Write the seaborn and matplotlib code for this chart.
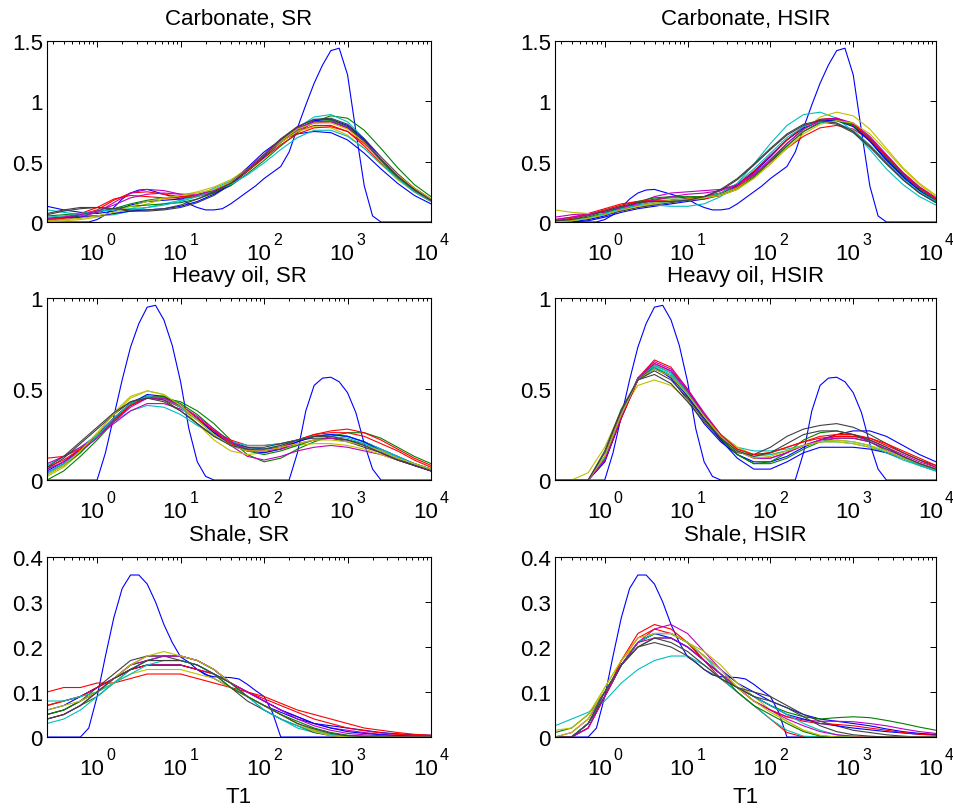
import numpy as np
import pandas as pd
import matplotlib
matplotlib.use("Agg")
import matplotlib.pyplot as plt
import seaborn as sns
from matplotlib.ticker import FixedLocator, LogLocator, FuncFormatter, NullFormatter

# log10(T1) grid for the estimated curves (0.2 decade) and the true ones (0.1 decade)
log_t1 = [-0.6, -0.4, -0.2, 0.0, 0.2, 0.4, 0.6, 0.8, 1.0, 1.2, 1.4, 1.6,
          1.8, 2.0, 2.2, 2.4, 2.6, 2.8, 3.0, 3.2, 3.4, 3.6, 3.8, 4.0]
log_t1_fine = [-0.6, -0.5, -0.4, -0.3, -0.2, -0.1, 0.0, 0.1, 0.2, 0.3, 0.4, 0.5,
               0.6, 0.7, 0.8, 0.9, 1.0, 1.1, 1.2, 1.3, 1.4, 1.5, 1.6, 1.7,
               1.8, 1.9, 2.0, 2.1, 2.2, 2.3, 2.4, 2.5, 2.6, 2.7, 2.8, 2.9,
               3.0, 3.1, 3.2, 3.3, 3.4, 3.5, 3.6, 3.7, 3.8, 3.9, 4.0]
decades = [0, 1, 2, 3, 4]

# true distributions (same for SR and HSIR)
true_carb = [0, 0, 0, 0, 0, 0, 0.02, 0.06, 0.12, 0.19, 0.24, 0.265, 0.27, 0.25,
             0.23, 0.21, 0.19, 0.15, 0.12, 0.10, 0.10, 0.11, 0.15, 0.20, 0.25,
             0.30, 0.36, 0.41, 0.46, 0.58, 0.78, 0.97, 1.15, 1.30, 1.42, 1.44,
             1.22, 0.75, 0.30, 0.05, 0, 0, 0, 0, 0, 0, 0]
true_oil = [0, 0, 0, 0, 0, 0, 0, 0.15, 0.35, 0.55, 0.73, 0.86, 0.95, 0.96, 0.88,
            0.74, 0.54, 0.28, 0.10, 0.02, 0, 0, 0, 0, 0, 0, 0, 0, 0, 0, 0.15,
            0.38, 0.52, 0.56, 0.565, 0.54, 0.48, 0.37, 0.20, 0.06, 0, 0, 0, 0,
            0, 0, 0]
true_shale = [0, 0, 0, 0, 0, 0.02, 0.09, 0.18, 0.265, 0.33, 0.36, 0.36, 0.34,
              0.30, 0.25, 0.21, 0.178, 0.166, 0.15, 0.138, 0.134, 0.133, 0.132,
              0.129, 0.117, 0.103, 0.09, 0.055, 0, 0, 0, 0, 0, 0, 0, 0, 0, 0, 0,
              0, 0, 0, 0, 0, 0, 0, 0]

# estimated distributions
carb_sr = [
    [0.13, 0.10, 0.08, 0.07, 0.09, 0.14, 0.17, 0.18, 0.19, 0.22, 0.26, 0.33, 0.45, 0.58, 0.68, 0.73, 0.75, 0.74, 0.68, 0.57, 0.44, 0.32, 0.22, 0.15],
    [0.02, 0.03, 0.05, 0.08, 0.11, 0.15, 0.18, 0.20, 0.21, 0.22, 0.24, 0.30, 0.40, 0.51, 0.63, 0.74, 0.83, 0.88, 0.86, 0.76, 0.61, 0.45, 0.31, 0.21],
    [0.01, 0.03, 0.06, 0.10, 0.18, 0.24, 0.25, 0.23, 0.21, 0.22, 0.25, 0.32, 0.43, 0.54, 0.66, 0.75, 0.80, 0.80, 0.75, 0.63, 0.49, 0.36, 0.25, 0.17],
    [0.10, 0.08, 0.06, 0.05, 0.06, 0.09, 0.12, 0.15, 0.18, 0.22, 0.28, 0.34, 0.43, 0.54, 0.66, 0.78, 0.87, 0.89, 0.83, 0.69, 0.53, 0.38, 0.26, 0.18],
    [0.01, 0.02, 0.04, 0.08, 0.16, 0.24, 0.27, 0.26, 0.23, 0.22, 0.24, 0.31, 0.42, 0.54, 0.66, 0.76, 0.82, 0.83, 0.78, 0.66, 0.51, 0.37, 0.26, 0.18],
    [0.00, 0.01, 0.02, 0.04, 0.07, 0.11, 0.15, 0.19, 0.22, 0.25, 0.29, 0.35, 0.44, 0.55, 0.66, 0.75, 0.79, 0.78, 0.72, 0.61, 0.48, 0.35, 0.25, 0.17],
    [0.06, 0.09, 0.11, 0.12, 0.11, 0.09, 0.09, 0.10, 0.12, 0.16, 0.22, 0.31, 0.43, 0.56, 0.69, 0.79, 0.85, 0.86, 0.81, 0.69, 0.54, 0.40, 0.28, 0.19],
    [0.03, 0.04, 0.04, 0.05, 0.07, 0.09, 0.10, 0.11, 0.13, 0.17, 0.23, 0.31, 0.42, 0.54, 0.67, 0.77, 0.84, 0.85, 0.80, 0.68, 0.53, 0.39, 0.27, 0.18],
    [0.05, 0.06, 0.07, 0.09, 0.11, 0.13, 0.14, 0.15, 0.16, 0.19, 0.24, 0.32, 0.43, 0.55, 0.67, 0.77, 0.83, 0.84, 0.78, 0.66, 0.51, 0.37, 0.26, 0.18],
    [0.02, 0.04, 0.07, 0.12, 0.19, 0.22, 0.21, 0.20, 0.20, 0.21, 0.25, 0.32, 0.42, 0.53, 0.64, 0.73, 0.78, 0.79, 0.75, 0.65, 0.52, 0.39, 0.28, 0.19],
    [0.04, 0.05, 0.07, 0.09, 0.10, 0.11, 0.12, 0.14, 0.17, 0.21, 0.26, 0.31, 0.39, 0.49, 0.60, 0.70, 0.76, 0.76, 0.71, 0.61, 0.48, 0.36, 0.25, 0.17],
    [0.03, 0.04, 0.06, 0.09, 0.14, 0.20, 0.23, 0.24, 0.23, 0.23, 0.26, 0.33, 0.44, 0.56, 0.68, 0.78, 0.83, 0.83, 0.78, 0.67, 0.53, 0.39, 0.27, 0.18],
    [0.01, 0.02, 0.03, 0.05, 0.08, 0.13, 0.17, 0.20, 0.22, 0.24, 0.27, 0.33, 0.43, 0.55, 0.67, 0.77, 0.82, 0.82, 0.77, 0.66, 0.53, 0.39, 0.28, 0.19],
    [0.07, 0.10, 0.12, 0.12, 0.11, 0.10, 0.10, 0.11, 0.14, 0.19, 0.25, 0.32, 0.43, 0.55, 0.68, 0.79, 0.85, 0.85, 0.79, 0.67, 0.52, 0.38, 0.27, 0.18],
]
carb_hsir = [
    [0.00, 0.00, 0.01, 0.04, 0.08, 0.11, 0.13, 0.15, 0.17, 0.19, 0.23, 0.30, 0.41, 0.54, 0.68, 0.79, 0.85, 0.86, 0.80, 0.67, 0.51, 0.37, 0.26, 0.17],
    [0.01, 0.02, 0.04, 0.08, 0.12, 0.16, 0.19, 0.20, 0.20, 0.20, 0.22, 0.28, 0.38, 0.51, 0.65, 0.77, 0.84, 0.85, 0.80, 0.68, 0.53, 0.39, 0.27, 0.18],
    [0.02, 0.04, 0.07, 0.11, 0.15, 0.17, 0.17, 0.17, 0.18, 0.19, 0.22, 0.29, 0.39, 0.50, 0.61, 0.71, 0.78, 0.80, 0.77, 0.68, 0.55, 0.41, 0.29, 0.20],
    [0.01, 0.03, 0.06, 0.10, 0.13, 0.14, 0.14, 0.13, 0.13, 0.15, 0.21, 0.32, 0.48, 0.65, 0.80, 0.89, 0.91, 0.86, 0.75, 0.60, 0.44, 0.31, 0.21, 0.14],
    [0.04, 0.06, 0.07, 0.08, 0.11, 0.16, 0.21, 0.24, 0.25, 0.26, 0.27, 0.31, 0.39, 0.50, 0.63, 0.75, 0.83, 0.85, 0.81, 0.70, 0.55, 0.40, 0.28, 0.19],
    [0.10, 0.08, 0.07, 0.07, 0.09, 0.12, 0.15, 0.17, 0.18, 0.20, 0.23, 0.28, 0.37, 0.48, 0.62, 0.76, 0.87, 0.91, 0.88, 0.77, 0.61, 0.45, 0.32, 0.22],
    [0.00, 0.01, 0.03, 0.06, 0.09, 0.12, 0.14, 0.16, 0.18, 0.21, 0.26, 0.35, 0.47, 0.60, 0.72, 0.80, 0.83, 0.81, 0.74, 0.62, 0.48, 0.35, 0.24, 0.16],
    [0.00, 0.00, 0.02, 0.05, 0.10, 0.14, 0.16, 0.18, 0.19, 0.21, 0.24, 0.31, 0.42, 0.55, 0.68, 0.78, 0.84, 0.84, 0.79, 0.67, 0.52, 0.38, 0.26, 0.17],
    [0.00, 0.01, 0.03, 0.07, 0.12, 0.17, 0.20, 0.21, 0.21, 0.21, 0.22, 0.27, 0.37, 0.50, 0.63, 0.75, 0.82, 0.84, 0.80, 0.69, 0.54, 0.40, 0.28, 0.19],
    [0.01, 0.03, 0.06, 0.10, 0.14, 0.17, 0.18, 0.18, 0.19, 0.21, 0.24, 0.31, 0.42, 0.55, 0.68, 0.79, 0.85, 0.86, 0.81, 0.69, 0.54, 0.40, 0.28, 0.19],
    [0.00, 0.01, 0.03, 0.07, 0.11, 0.14, 0.16, 0.17, 0.18, 0.20, 0.24, 0.32, 0.44, 0.57, 0.70, 0.79, 0.83, 0.82, 0.76, 0.64, 0.50, 0.36, 0.25, 0.17],
    [0.02, 0.04, 0.06, 0.09, 0.12, 0.15, 0.18, 0.21, 0.23, 0.24, 0.26, 0.31, 0.40, 0.52, 0.65, 0.77, 0.84, 0.86, 0.82, 0.71, 0.56, 0.41, 0.29, 0.20],
    [0.00, 0.01, 0.03, 0.06, 0.10, 0.13, 0.16, 0.18, 0.19, 0.20, 0.22, 0.27, 0.36, 0.48, 0.61, 0.73, 0.81, 0.84, 0.82, 0.73, 0.59, 0.44, 0.31, 0.21],
    [0.01, 0.02, 0.05, 0.09, 0.13, 0.16, 0.17, 0.17, 0.18, 0.21, 0.27, 0.36, 0.48, 0.61, 0.73, 0.81, 0.84, 0.82, 0.75, 0.63, 0.49, 0.35, 0.24, 0.16],
]
oil_sr = [
    [0.05, 0.10, 0.17, 0.25, 0.34, 0.42, 0.46, 0.45, 0.40, 0.33, 0.26, 0.21, 0.18, 0.17, 0.18, 0.21, 0.24, 0.25, 0.24, 0.21, 0.17, 0.13, 0.09, 0.06],
    [0.00, 0.05, 0.13, 0.22, 0.32, 0.41, 0.45, 0.45, 0.43, 0.38, 0.31, 0.22, 0.14, 0.10, 0.12, 0.17, 0.21, 0.24, 0.26, 0.26, 0.23, 0.18, 0.13, 0.09],
    [0.12, 0.13, 0.17, 0.24, 0.33, 0.41, 0.45, 0.44, 0.40, 0.34, 0.27, 0.22, 0.19, 0.19, 0.20, 0.22, 0.25, 0.27, 0.28, 0.26, 0.22, 0.17, 0.12, 0.08],
    [0.08, 0.13, 0.18, 0.25, 0.32, 0.38, 0.41, 0.40, 0.36, 0.30, 0.25, 0.21, 0.19, 0.19, 0.20, 0.22, 0.24, 0.25, 0.24, 0.21, 0.17, 0.13, 0.09, 0.06],
    [0.09, 0.13, 0.18, 0.24, 0.31, 0.38, 0.42, 0.42, 0.39, 0.34, 0.27, 0.19, 0.13, 0.11, 0.13, 0.16, 0.18, 0.19, 0.18, 0.16, 0.14, 0.11, 0.08, 0.05],
    [0.02, 0.07, 0.15, 0.25, 0.37, 0.46, 0.49, 0.47, 0.40, 0.31, 0.22, 0.16, 0.14, 0.15, 0.17, 0.19, 0.20, 0.20, 0.19, 0.17, 0.14, 0.11, 0.08, 0.06],
    [0.06, 0.12, 0.20, 0.28, 0.36, 0.43, 0.46, 0.44, 0.38, 0.31, 0.24, 0.20, 0.18, 0.18, 0.20, 0.22, 0.23, 0.23, 0.21, 0.18, 0.15, 0.11, 0.08, 0.05],
    [0.04, 0.09, 0.16, 0.24, 0.34, 0.42, 0.47, 0.46, 0.41, 0.34, 0.26, 0.19, 0.16, 0.15, 0.17, 0.21, 0.24, 0.25, 0.24, 0.21, 0.16, 0.12, 0.08, 0.05],
    [0.03, 0.08, 0.15, 0.24, 0.34, 0.42, 0.46, 0.46, 0.42, 0.36, 0.28, 0.21, 0.16, 0.14, 0.16, 0.19, 0.22, 0.23, 0.22, 0.20, 0.16, 0.12, 0.09, 0.06],
    [0.07, 0.11, 0.17, 0.24, 0.33, 0.41, 0.46, 0.45, 0.41, 0.34, 0.27, 0.20, 0.16, 0.16, 0.18, 0.22, 0.25, 0.26, 0.26, 0.24, 0.20, 0.16, 0.11, 0.07],
    [0.04, 0.09, 0.16, 0.24, 0.34, 0.42, 0.46, 0.45, 0.40, 0.33, 0.25, 0.19, 0.17, 0.17, 0.19, 0.22, 0.24, 0.24, 0.23, 0.20, 0.16, 0.12, 0.09, 0.06],
    [0.06, 0.10, 0.16, 0.23, 0.32, 0.40, 0.45, 0.45, 0.41, 0.35, 0.28, 0.21, 0.17, 0.16, 0.17, 0.20, 0.22, 0.23, 0.22, 0.19, 0.15, 0.11, 0.08, 0.05],
    [0.03, 0.08, 0.16, 0.26, 0.36, 0.45, 0.49, 0.47, 0.41, 0.33, 0.25, 0.19, 0.16, 0.16, 0.18, 0.20, 0.22, 0.22, 0.21, 0.19, 0.16, 0.12, 0.09, 0.06],
    [0.07, 0.13, 0.21, 0.29, 0.37, 0.43, 0.45, 0.43, 0.38, 0.31, 0.24, 0.19, 0.17, 0.17, 0.19, 0.22, 0.24, 0.24, 0.22, 0.19, 0.15, 0.11, 0.08, 0.05],
]
oil_hsir = [
    [0.00, 0.00, 0.00, 0.12, 0.36, 0.56, 0.62, 0.56, 0.44, 0.31, 0.21, 0.14, 0.10, 0.10, 0.13, 0.18, 0.22, 0.25, 0.27, 0.27, 0.24, 0.19, 0.14, 0.10],
    [0.00, 0.00, 0.00, 0.13, 0.36, 0.55, 0.62, 0.57, 0.46, 0.34, 0.23, 0.14, 0.09, 0.10, 0.15, 0.22, 0.26, 0.27, 0.25, 0.21, 0.16, 0.12, 0.08, 0.05],
    [0.00, 0.00, 0.00, 0.10, 0.34, 0.56, 0.66, 0.62, 0.50, 0.36, 0.24, 0.17, 0.14, 0.15, 0.18, 0.21, 0.24, 0.25, 0.25, 0.23, 0.19, 0.15, 0.11, 0.07],
    [0.00, 0.00, 0.00, 0.12, 0.35, 0.55, 0.62, 0.58, 0.47, 0.35, 0.25, 0.18, 0.16, 0.16, 0.17, 0.19, 0.21, 0.21, 0.20, 0.18, 0.15, 0.11, 0.08, 0.05],
    [0.00, 0.00, 0.00, 0.11, 0.35, 0.56, 0.65, 0.61, 0.50, 0.37, 0.25, 0.16, 0.12, 0.12, 0.15, 0.19, 0.22, 0.24, 0.24, 0.22, 0.18, 0.14, 0.10, 0.07],
    [0.00, 0.00, 0.04, 0.18, 0.38, 0.52, 0.55, 0.52, 0.44, 0.34, 0.25, 0.18, 0.14, 0.14, 0.16, 0.19, 0.21, 0.21, 0.20, 0.18, 0.15, 0.12, 0.09, 0.06],
    [0.00, 0.00, 0.00, 0.16, 0.39, 0.55, 0.58, 0.53, 0.43, 0.32, 0.22, 0.15, 0.14, 0.18, 0.24, 0.28, 0.30, 0.31, 0.29, 0.25, 0.20, 0.15, 0.11, 0.08],
    [0.00, 0.00, 0.00, 0.10, 0.34, 0.55, 0.61, 0.57, 0.46, 0.34, 0.22, 0.12, 0.06, 0.06, 0.10, 0.15, 0.18, 0.18, 0.18, 0.17, 0.15, 0.12, 0.09, 0.06],
    [0.00, 0.00, 0.00, 0.12, 0.35, 0.55, 0.63, 0.59, 0.48, 0.35, 0.23, 0.14, 0.09, 0.09, 0.12, 0.17, 0.21, 0.23, 0.23, 0.21, 0.17, 0.13, 0.09, 0.06],
    [0.00, 0.00, 0.00, 0.11, 0.34, 0.55, 0.64, 0.60, 0.49, 0.36, 0.25, 0.17, 0.14, 0.15, 0.18, 0.21, 0.23, 0.24, 0.24, 0.23, 0.20, 0.16, 0.12, 0.08],
    [0.00, 0.00, 0.00, 0.12, 0.36, 0.56, 0.63, 0.59, 0.48, 0.35, 0.24, 0.16, 0.13, 0.14, 0.16, 0.19, 0.21, 0.22, 0.21, 0.19, 0.15, 0.12, 0.08, 0.05],
    [0.00, 0.00, 0.00, 0.11, 0.35, 0.56, 0.64, 0.60, 0.49, 0.36, 0.24, 0.16, 0.12, 0.12, 0.15, 0.19, 0.22, 0.23, 0.23, 0.21, 0.17, 0.13, 0.09, 0.06],
    [0.00, 0.00, 0.00, 0.13, 0.36, 0.55, 0.61, 0.57, 0.47, 0.35, 0.24, 0.16, 0.12, 0.13, 0.16, 0.19, 0.21, 0.22, 0.21, 0.19, 0.16, 0.12, 0.09, 0.06],
    [0.00, 0.00, 0.00, 0.15, 0.38, 0.55, 0.60, 0.55, 0.45, 0.33, 0.23, 0.16, 0.13, 0.15, 0.20, 0.25, 0.27, 0.27, 0.25, 0.22, 0.18, 0.13, 0.09, 0.06],
]
shale_sr = [
    [0.07, 0.08, 0.09, 0.11, 0.13, 0.15, 0.16, 0.16, 0.16, 0.15, 0.13, 0.11, 0.09, 0.07, 0.055, 0.04, 0.03, 0.025, 0.02, 0.015, 0.01, 0.007, 0.005, 0.004],
    [0.04, 0.05, 0.07, 0.09, 0.12, 0.15, 0.17, 0.18, 0.18, 0.17, 0.15, 0.12, 0.09, 0.07, 0.05, 0.03, 0.015, 0.005, 0.0, 0.0, 0.0, 0.0, 0.0, 0.0],
    [0.10, 0.11, 0.11, 0.12, 0.12, 0.13, 0.14, 0.14, 0.14, 0.13, 0.12, 0.11, 0.10, 0.09, 0.075, 0.06, 0.05, 0.04, 0.03, 0.02, 0.015, 0.01, 0.006, 0.004],
    [0.03, 0.04, 0.06, 0.09, 0.12, 0.15, 0.17, 0.18, 0.18, 0.17, 0.15, 0.12, 0.09, 0.06, 0.04, 0.02, 0.01, 0.005, 0.003, 0.002, 0.001, 0.0, 0.0, 0.0],
    [0.05, 0.06, 0.08, 0.10, 0.13, 0.16, 0.18, 0.18, 0.18, 0.17, 0.15, 0.12, 0.10, 0.08, 0.06, 0.045, 0.03, 0.02, 0.015, 0.01, 0.006, 0.004, 0.002, 0.001],
    [0.07, 0.08, 0.09, 0.10, 0.12, 0.14, 0.15, 0.15, 0.15, 0.14, 0.13, 0.11, 0.09, 0.07, 0.05, 0.03, 0.015, 0.005, 0.0, 0.0, 0.0, 0.0, 0.0, 0.0],
    [0.05, 0.06, 0.08, 0.11, 0.14, 0.17, 0.18, 0.18, 0.17, 0.16, 0.14, 0.11, 0.08, 0.06, 0.04, 0.025, 0.01, 0.003, 0.0, 0.0, 0.0, 0.0, 0.0, 0.0],
    [0.06, 0.07, 0.09, 0.11, 0.13, 0.15, 0.16, 0.16, 0.16, 0.15, 0.14, 0.12, 0.10, 0.08, 0.06, 0.045, 0.03, 0.02, 0.012, 0.008, 0.005, 0.003, 0.002, 0.001],
    [0.05, 0.06, 0.08, 0.10, 0.13, 0.16, 0.17, 0.17, 0.17, 0.16, 0.14, 0.11, 0.09, 0.07, 0.05, 0.035, 0.02, 0.01, 0.004, 0.002, 0.001, 0.0, 0.0, 0.0],
    [0.07, 0.08, 0.09, 0.11, 0.13, 0.15, 0.16, 0.16, 0.16, 0.15, 0.14, 0.12, 0.10, 0.085, 0.07, 0.055, 0.04, 0.03, 0.02, 0.014, 0.009, 0.006, 0.004, 0.003],
    [0.08, 0.08, 0.09, 0.10, 0.12, 0.14, 0.16, 0.17, 0.17, 0.16, 0.14, 0.12, 0.09, 0.06, 0.04, 0.025, 0.012, 0.005, 0.002, 0.001, 0.0, 0.0, 0.0, 0.0],
    [0.04, 0.05, 0.07, 0.10, 0.13, 0.16, 0.17, 0.18, 0.18, 0.17, 0.15, 0.12, 0.10, 0.08, 0.06, 0.04, 0.025, 0.015, 0.008, 0.005, 0.003, 0.002, 0.001, 0.0],
    [0.06, 0.07, 0.08, 0.10, 0.13, 0.16, 0.18, 0.19, 0.18, 0.17, 0.15, 0.12, 0.09, 0.07, 0.05, 0.03, 0.012, 0.003, 0.0, 0.0, 0.0, 0.0, 0.0, 0.0],
    [0.04, 0.05, 0.07, 0.10, 0.13, 0.15, 0.17, 0.17, 0.17, 0.16, 0.14, 0.12, 0.09, 0.07, 0.05, 0.03, 0.018, 0.008, 0.003, 0.001, 0.0, 0.0, 0.0, 0.0],
]
shale_hsir = [
    [0.00, 0.00, 0.02, 0.09, 0.16, 0.21, 0.23, 0.23, 0.21, 0.18, 0.15, 0.12, 0.10, 0.08, 0.065, 0.05, 0.04, 0.035, 0.03, 0.025, 0.018, 0.012, 0.008, 0.006],
    [0.01, 0.02, 0.05, 0.10, 0.16, 0.20, 0.22, 0.22, 0.20, 0.17, 0.14, 0.11, 0.09, 0.07, 0.055, 0.045, 0.04, 0.043, 0.045, 0.043, 0.037, 0.03, 0.022, 0.015],
    [0.00, 0.00, 0.03, 0.09, 0.17, 0.23, 0.25, 0.24, 0.21, 0.17, 0.13, 0.10, 0.07, 0.04, 0.01, 0.0, 0.0, 0.0, 0.0, 0.0, 0.0, 0.0, 0.0, 0.0],
    [0.025, 0.04, 0.055, 0.08, 0.12, 0.15, 0.17, 0.18, 0.18, 0.16, 0.13, 0.10, 0.07, 0.04, 0.015, 0.002, 0.0, 0.0, 0.0, 0.0, 0.0, 0.0, 0.0, 0.0],
    [0.00, 0.01, 0.04, 0.10, 0.16, 0.21, 0.24, 0.25, 0.23, 0.19, 0.15, 0.11, 0.08, 0.06, 0.045, 0.038, 0.035, 0.035, 0.034, 0.03, 0.025, 0.018, 0.012, 0.008],
    [0.015, 0.02, 0.05, 0.11, 0.17, 0.21, 0.23, 0.23, 0.21, 0.19, 0.16, 0.12, 0.09, 0.06, 0.035, 0.015, 0.003, 0.0, 0.0, 0.0, 0.0, 0.0, 0.0, 0.0],
    [0.00, 0.00, 0.03, 0.10, 0.16, 0.20, 0.21, 0.20, 0.18, 0.15, 0.13, 0.11, 0.10, 0.09, 0.07, 0.05, 0.035, 0.025, 0.015, 0.01, 0.005, 0.002, 0.0, 0.0],
    [0.00, 0.00, 0.03, 0.09, 0.16, 0.21, 0.23, 0.22, 0.20, 0.17, 0.14, 0.11, 0.09, 0.07, 0.05, 0.04, 0.03, 0.025, 0.02, 0.016, 0.012, 0.009, 0.006, 0.005],
    [0.00, 0.00, 0.03, 0.09, 0.16, 0.21, 0.23, 0.23, 0.21, 0.17, 0.14, 0.10, 0.07, 0.05, 0.03, 0.012, 0.002, 0.0, 0.0, 0.0, 0.0, 0.0, 0.0, 0.0],
    [0.00, 0.00, 0.02, 0.09, 0.17, 0.22, 0.24, 0.23, 0.21, 0.17, 0.14, 0.11, 0.08, 0.06, 0.045, 0.035, 0.03, 0.028, 0.025, 0.02, 0.015, 0.01, 0.006, 0.004],
    [0.00, 0.00, 0.03, 0.10, 0.16, 0.21, 0.23, 0.23, 0.21, 0.18, 0.14, 0.11, 0.09, 0.07, 0.05, 0.03, 0.015, 0.005, 0.0, 0.0, 0.0, 0.0, 0.0, 0.0],
    [0.00, 0.00, 0.02, 0.09, 0.16, 0.21, 0.22, 0.22, 0.20, 0.17, 0.14, 0.11, 0.08, 0.06, 0.04, 0.025, 0.012, 0.005, 0.002, 0.0, 0.0, 0.0, 0.0, 0.0],
    [0.00, 0.01, 0.04, 0.11, 0.17, 0.22, 0.23, 0.23, 0.21, 0.18, 0.15, 0.11, 0.08, 0.055, 0.035, 0.015, 0.004, 0.0, 0.0, 0.0, 0.0, 0.0, 0.0, 0.0],
    [0.00, 0.00, 0.03, 0.10, 0.16, 0.20, 0.22, 0.21, 0.19, 0.16, 0.13, 0.11, 0.09, 0.08, 0.065, 0.045, 0.025, 0.012, 0.005, 0.002, 0.0, 0.0, 0.0, 0.0],
]

panels = [
    ("Carbonate, SR", carb_sr, true_carb, [0, 0.5, 1, 1.5]),
    ("Carbonate, HSIR", carb_hsir, true_carb, [0, 0.5, 1, 1.5]),
    ("Heavy oil, SR", oil_sr, true_oil, [0, 0.5, 1]),
    ("Heavy oil, HSIR", oil_hsir, true_oil, [0, 0.5, 1]),
    ("Shale, SR", shale_sr, true_shale, [0, 0.1, 0.2, 0.3, 0.4]),
    ("Shale, HSIR", shale_hsir, true_shale, [0, 0.1, 0.2, 0.3, 0.4]),
]

# old MATLAB colour order
matlab_colors = [(0, 0, 1), (0, 0.5, 0), (1, 0, 0), (0, 0.75, 0.75),
                 (0.75, 0, 0.75), (0.75, 0.75, 0), (0.25, 0.25, 0.25)]

sns.set_style("white")
plt.rcParams['font.family'] = ['Liberation Sans', 'DejaVu Sans']
for key in ['text.color', 'axes.labelcolor', 'xtick.color', 'ytick.color']:
    plt.rcParams[key] = 'black'

fig = plt.figure(figsize=(9.54, 8.12), dpi=100)
col_x = [0.0493, 0.5818]
col_w = [0.4025, 0.3994]
row_y = [0.7254, 0.4076, 0.0911]
row_h = [0.2229, 0.2241, 0.2217]

for i, (title, curves, true_vals, yticks) in enumerate(panels):
    r, c = divmod(i, 2)
    ax = fig.add_axes([col_x[c], row_y[r], col_w[c], row_h[r]])

    t1 = 10 ** np.array(log_t1)
    df = pd.DataFrame({
        'T1': np.tile(t1, len(curves)),
        'f': np.concatenate(curves),
        'run': np.repeat(np.arange(len(curves)), len(t1)),
    })
    pal = [matlab_colors[k % 7] for k in range(len(curves))]
    sns.lineplot(x=10 ** np.array(log_t1_fine), y=true_vals, color=(0, 0, 1),
                 linewidth=0.8, ax=ax)
    sns.lineplot(data=df, x='T1', y='f', hue='run', palette=pal, estimator=None,
                 linewidth=0.8, legend=False, ax=ax)

    ax.set_xscale('log')
    ax.set_xlim(10 ** -0.6, 1e4)
    ax.set_ylim(yticks[0], yticks[-1])
    ax.xaxis.set_major_locator(FixedLocator([10.0 ** d for d in decades]))
    ax.xaxis.set_minor_locator(LogLocator(base=10, subs=range(2, 10)))
    ax.xaxis.set_major_formatter(NullFormatter())
    ax.xaxis.set_minor_formatter(NullFormatter())
    ax.set_yticks(yticks)
    ax.yaxis.set_major_formatter(FuncFormatter(lambda v, p: f'{v:g}'))
    ax.tick_params(which='both', direction='in', top=True, right=True,
                   color='black', width=0.7)
    ax.tick_params(which='major', length=4, labelsize=16, pad=3)
    ax.tick_params(which='minor', length=2)
    for s in ax.spines.values():
        s.set_color('black')
        s.set_linewidth(0.8)

    # MATLAB style 10^k labels: base and raised exponent
    for d in decades:
        ax.annotate('10', xy=(10.0 ** d, 0), xycoords=('data', 'axes fraction'),
                    xytext=(7, -37), textcoords='offset pixels',
                    ha='right', va='baseline', fontsize=16, annotation_clip=False)
        ax.annotate(str(d), xy=(10.0 ** d, 0), xycoords=('data', 'axes fraction'),
                    xytext=(9, -22), textcoords='offset pixels',
                    ha='left', va='baseline', fontsize=11.5, annotation_clip=False)

    ax.set_title(title, fontsize=16, pad=12)
    ax.set_ylabel('')
    ax.set_xlabel('T1' if r == 2 else '', fontsize=16, va='top')
    ax.xaxis.set_label_coords(0.5, -0.27)

fig.savefig('out.png', dpi=100)
